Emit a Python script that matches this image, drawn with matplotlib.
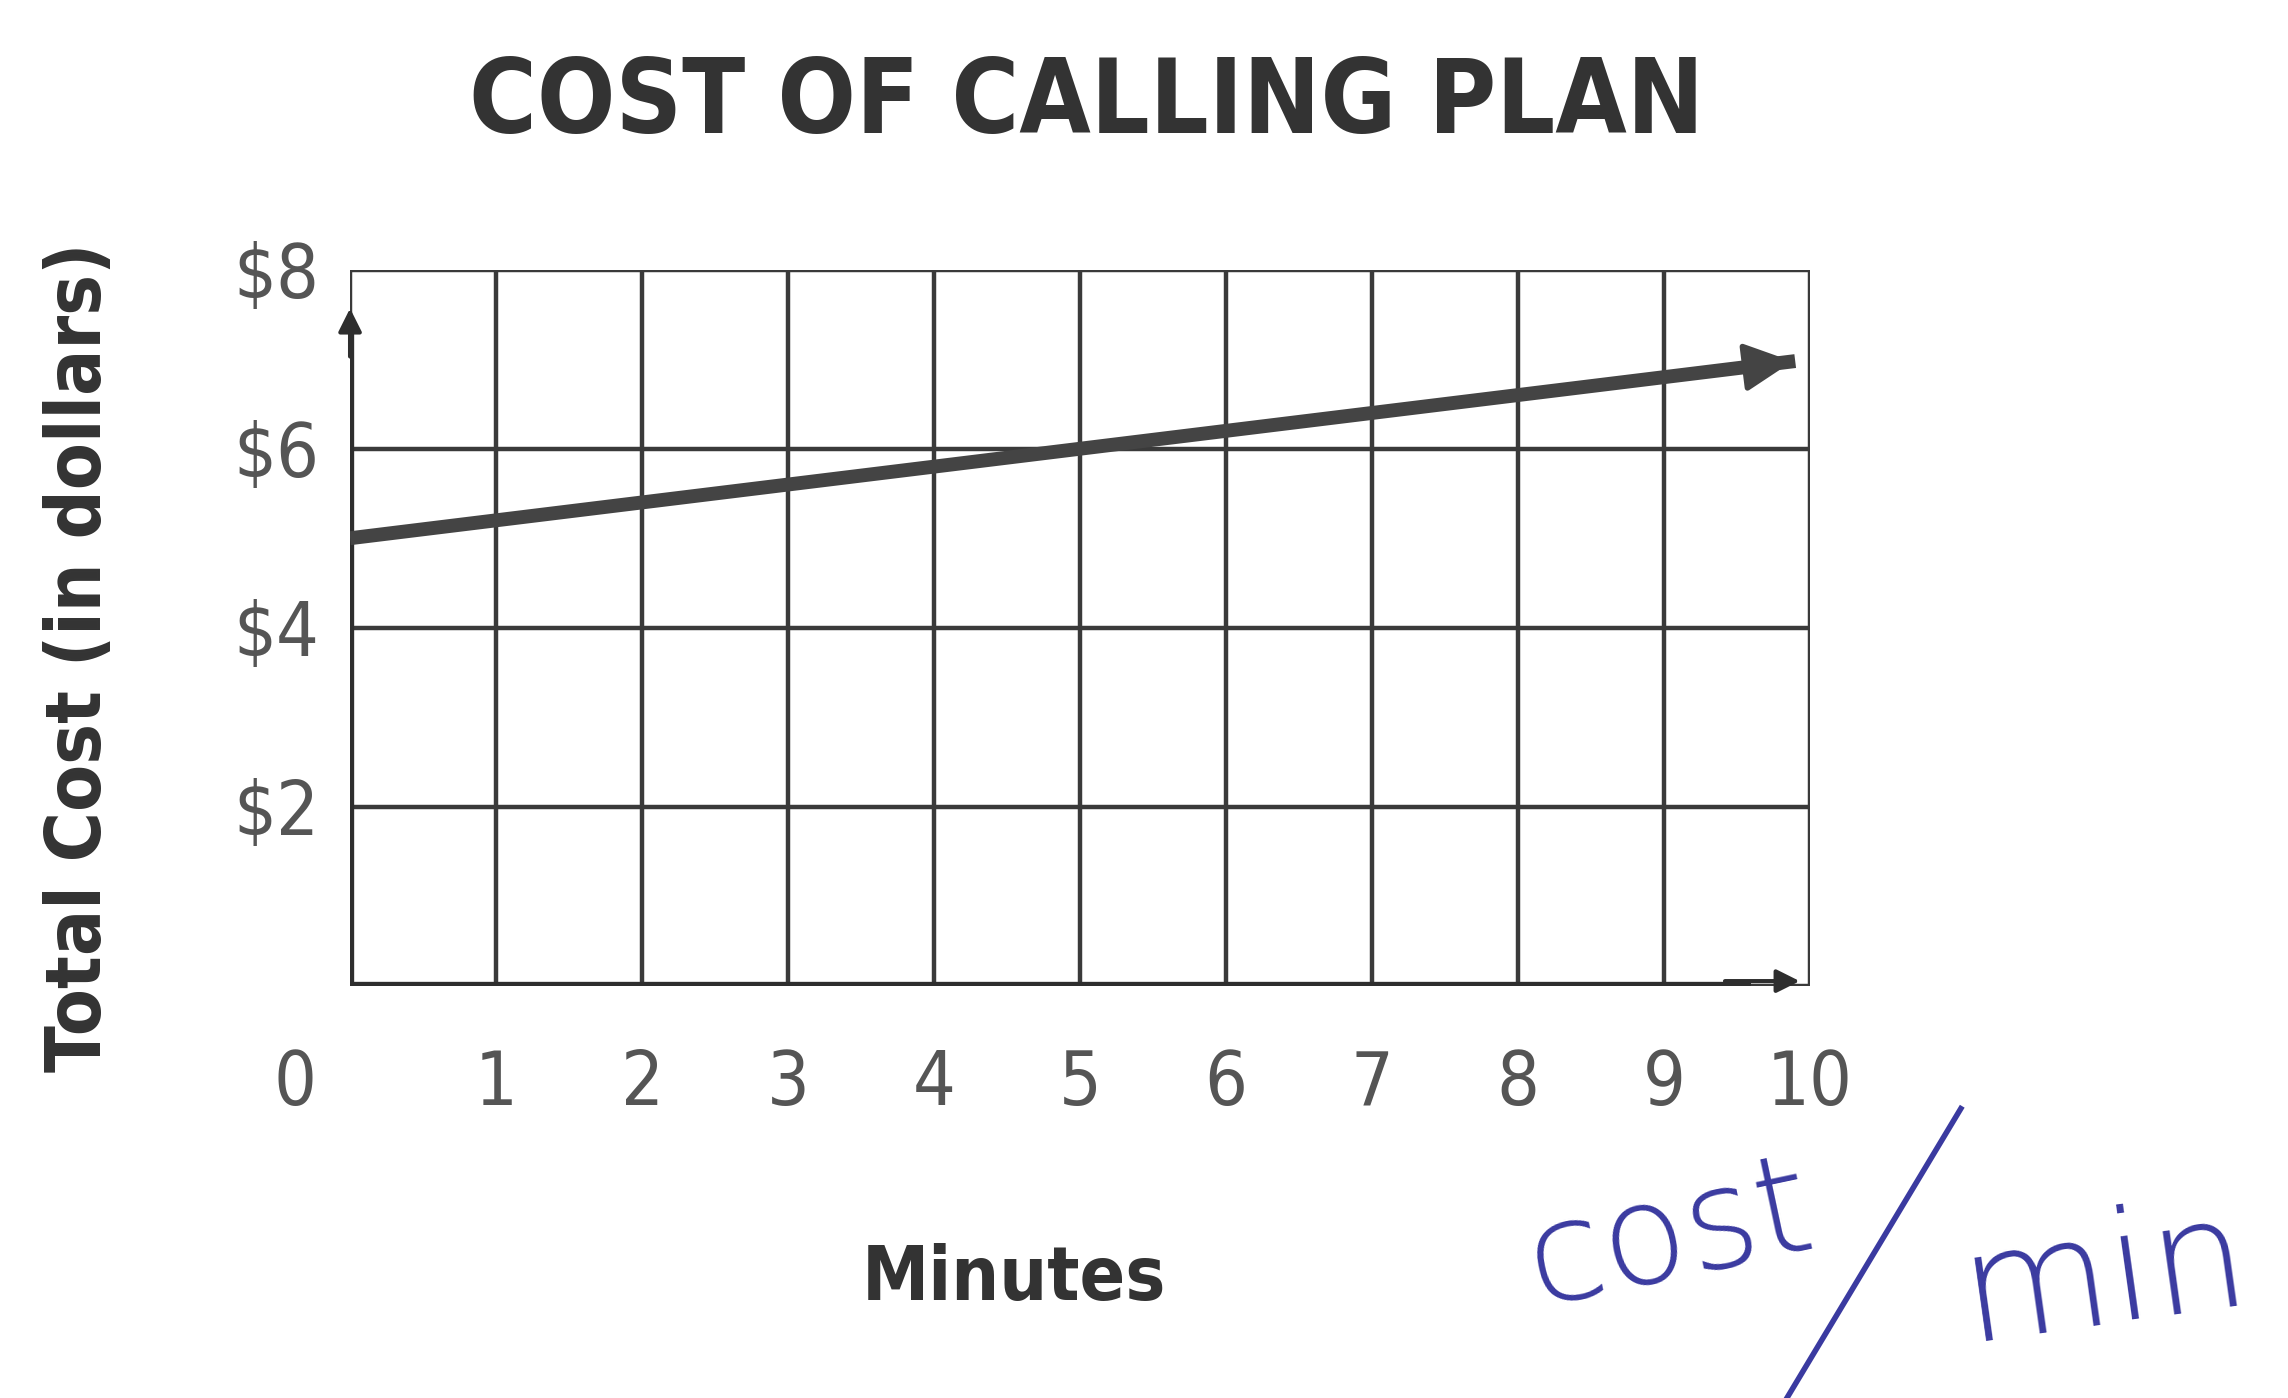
import numpy as np
import matplotlib
matplotlib.use('Agg')
import matplotlib.pyplot as plt
import matplotlib.transforms as mtransforms

# data
minutes = [0, 9.9]
total_cost = [5.0, 6.98]
x_ticks = [0, 1, 2, 3, 4, 5, 6, 7, 8, 9, 10]
y_ticks = [2, 4, 6, 8]
y_labels = ['$2', '$4', '$6', '$8']

plt.rcParams['font.family'] = ['DejaVu Sans']
plt.rcParams['font.stretch'] = 'condensed'

fig = plt.figure(figsize=(22.88, 13.98), dpi=100)
ax = fig.add_axes([0.153, 0.295, 0.638, 0.512])

ax.set_xlim(0, 10)
ax.set_ylim(0, 8)

# grid
grid_col = '#3a3a3a'
for xv in x_ticks:
    ax.axvline(xv, color=grid_col, lw=3.2, zorder=1)
for yv in [0, 2, 4, 6, 8]:
    ax.axhline(yv, color=grid_col, lw=3.2, zorder=1)

for s in ax.spines.values():
    s.set_visible(False)

# axes (thicker left / bottom with arrows)
ax.plot([0, 0], [0, 7.3], color='#2e2e2e', lw=6, zorder=3, solid_capstyle='butt')
ax.annotate('', xy=(0, 7.6), xytext=(0, 7.0),
            arrowprops=dict(arrowstyle='-|>', color='#2e2e2e', lw=3, mutation_scale=35), zorder=3)
ax.plot([0, 9.6], [0, 0], color='#2e2e2e', lw=6, zorder=3, solid_capstyle='butt')
ax.annotate('', xy=(9.95, 0.05), xytext=(9.4, 0.05),
            arrowprops=dict(arrowstyle='-|>', color='#2e2e2e', lw=3, mutation_scale=35), zorder=3)

# cost line
ax.plot(minutes, total_cost, color='#444444', lw=10, zorder=4, solid_capstyle='butt')
ax.annotate('', xy=(minutes[-1], total_cost[-1]),
            xytext=(minutes[-1] - 0.6, total_cost[-1] - 0.12),
            arrowprops=dict(arrowstyle='-|>', color='#444444', lw=4, mutation_scale=75), zorder=5)

# ticks
ax.set_xticks(x_ticks)
ax.set_xticklabels([str(v) for v in x_ticks], fontsize=54, color='#555555')
ax.set_yticks(y_ticks)
ax.set_yticklabels(y_labels, fontsize=54, color='#555555')
ax.tick_params(length=0)
ax.tick_params(axis='x', pad=45)
ax.tick_params(axis='y', pad=22)
lab0 = ax.get_xticklabels()[0]
lab0.set_transform(lab0.get_transform() + mtransforms.ScaledTranslation(-0.55, 0, fig.dpi_scale_trans))

fig.text(0.475, 0.925, 'COST OF CALLING PLAN', ha='center', va='center',
         fontsize=74, fontweight='bold', color='#333333')
fig.text(0.035, 0.53, 'Total Cost (in dollars)', rotation=90, ha='center', va='center',
         fontsize=55, fontweight='bold', color='#333333')
fig.text(0.443, 0.085, 'Minutes', ha='center', va='center', fontsize=54,
         fontweight='bold', color='#333333')

# handwritten note
hand = '#3a3aa0'
fig.text(0.73, 0.115, 'cost', ha='center', va='center', fontsize=100, color=hand,
         rotation=12, fontstretch='normal', fontweight='light')
fig.add_artist(plt.Line2D([0.857, 0.781], [0.207, 0.0], transform=fig.transFigure, color=hand, lw=4))
fig.text(0.92, 0.085, 'min', ha='center', va='center', fontsize=110, color=hand,
         rotation=8, fontstretch='normal', fontweight='light')

fig.savefig('out.png', dpi=100)
